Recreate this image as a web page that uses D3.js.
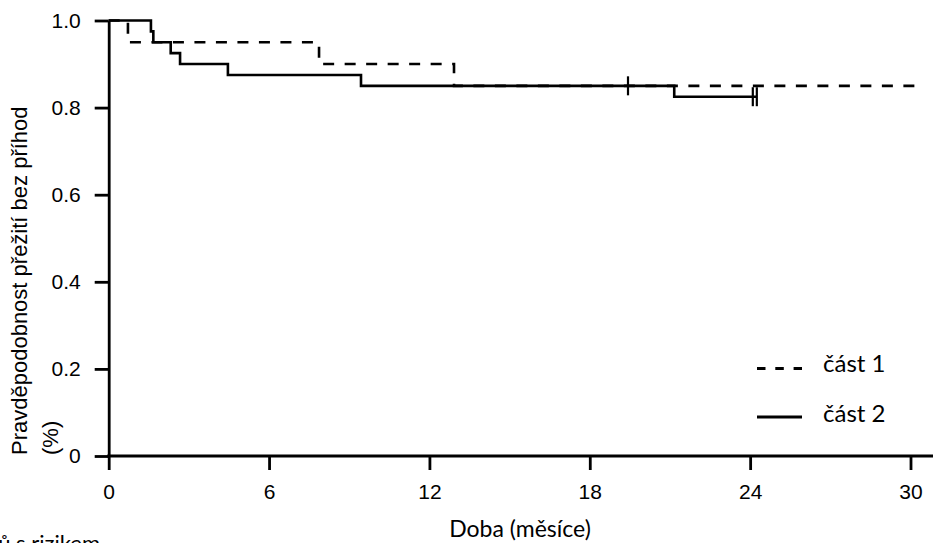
<!DOCTYPE html>
<html>
<head>
<meta charset="utf-8">
<script src="https://cdn.jsdelivr.net/npm/d3@7"></script>
<style>
  html, body { margin: 0; padding: 0; background: #fff; }
  svg { display: block; }
</style>
</head>
<body>
<svg id="chart" width="933" height="543"></svg>
<script>
// ---------- data ----------
const xTicks = [0, 6, 12, 18, 24, 30];
const yTicks = [0, 0.2, 0.4, 0.6, 0.8, 1.0];
const yTickLabels = ["0", "0.2", "0.4", "0.6", "0.8", "1.0"];

const part1Times = [0, 0.72, 7.87, 12.92, 30.3];
const part1Surv  = [1.0, 0.95, 0.90, 0.85, 0.85];

const part2Times = [0, 1.58, 1.67, 2.32, 2.67, 4.46, 9.44, 21.16, 24.25];
const part2Surv  = [1.0, 0.975, 0.95, 0.925, 0.90, 0.875, 0.85, 0.825, 0.825];

const part2CensorTimes = [19.43, 24.1, 24.25];
const part2CensorSurv  = [0.85, 0.825, 0.825];

const seriesNames = ["část 1", "část 2"];
const xTitle = "Doba (měsíce)";
const yTitleLines = ["Pravděpodobnost přežití bez příhod", "(%)"];
const footText = "Počet pacientů s rizikem";

// ---------- layout ----------
const svg = d3.select("#chart");
const W = 933, H = 543;
const x = d3.scaleLinear().domain([0, 30]).range([108.7, 910.5]);
const y = d3.scaleLinear().domain([0, 1]).range([456, 20.5]);

const tickFont = "'Liberation Sans', Arial, Helvetica, sans-serif";
const humanFont = "Lato, 'Open Sans', sans-serif";

// ---------- axes ----------
const xAxis = d3.axisBottom(x).tickValues(xTicks).tickFormat(d3.format("d"))
  .tickSize(14).tickSizeOuter(0).tickPadding(14);
const yAxis = d3.axisLeft(y).tickValues(yTicks).tickFormat((d, i) => yTickLabels[i])
  .tickSize(14).tickSizeOuter(0).tickPadding(14);

const gx = svg.append("g").attr("transform", `translate(0,${y(0)})`).call(xAxis);
const gy = svg.append("g").attr("transform", `translate(${x(0)},0)`).call(yAxis);

[gx, gy].forEach(g => {
  g.select(".domain").attr("stroke", "#000").attr("stroke-width", 2.8);
  g.selectAll(".tick line").attr("stroke", "#000").attr("stroke-width", 2.8);
  g.selectAll(".tick text").attr("fill", "#000")
    .style("font-family", tickFont).style("font-size", "21px");
});
// x axis line continues to the right edge
gx.select(".domain").remove();
gx.append("line").attr("x1", x(0) - 1.4).attr("x2", W).attr("y1", 0).attr("y2", 0)
  .attr("stroke", "#000").attr("stroke-width", 2.8);

// ---------- curves ----------
const line = d3.line().x(d => x(d[0])).y(d => y(d[1])).curve(d3.curveStepAfter);
const part1 = part1Times.map((t, i) => [t, part1Surv[i]]);
const part2 = part2Times.map((t, i) => [t, part2Surv[i]]);

svg.append("path").datum(part1).attr("d", line)
  .attr("fill", "none").attr("stroke", "#000").attr("stroke-width", 2.6)
  .attr("stroke-dasharray", "11,10.5");
svg.append("path").datum(part2).attr("d", line)
  .attr("fill", "none").attr("stroke", "#000").attr("stroke-width", 2.6);

// censor marks
svg.append("g").selectAll("line")
  .data(part2CensorTimes.map((t, i) => [t, part2CensorSurv[i]]))
  .join("line")
  .attr("x1", d => x(d[0])).attr("x2", d => x(d[0]))
  .attr("y1", d => y(d[1]) - 9.5).attr("y2", d => y(d[1]) + 9.5)
  .attr("stroke", "#000").attr("stroke-width", 2.2);

// ---------- legend ----------
const legend = svg.append("g");
const legItems = [
  { name: seriesNames[0], dash: "8.5,9.8", ly: 368.5, ty: 372 },
  { name: seriesNames[1], dash: null, ly: 417, ty: 422 }
];
legItems.forEach(it => {
  legend.append("line").attr("x1", 757).attr("x2", 802)
    .attr("y1", it.ly).attr("y2", it.ly)
    .attr("stroke", "#000").attr("stroke-width", 2.8)
    .attr("stroke-dasharray", it.dash);
  legend.append("text").attr("x", 823).attr("y", it.ty)
    .text(it.name).attr("fill", "#000")
    .style("font-family", humanFont).style("font-size", "24px");
});

// ---------- titles ----------
svg.append("text").attr("x", 520).attr("y", 537)
  .attr("text-anchor", "middle").text(xTitle).attr("fill", "#000")
  .style("font-family", humanFont).style("font-size", "23px");

const yt = svg.append("text").attr("transform", "translate(0,455) rotate(-90)")
  .attr("fill", "#000").style("font-family", tickFont).style("font-size", "22px");
yt.append("tspan").attr("x", 0).attr("y", 27).text(yTitleLines[0]);
yt.append("tspan").attr("x", 0).attr("y", 58).text(yTitleLines[1]);

svg.append("text").attr("x", 100).attr("y", 551).attr("text-anchor", "end")
  .text(footText).attr("fill", "#000")
  .style("font-family", humanFont).style("font-size", "22px");
</script>
</body>
</html>
